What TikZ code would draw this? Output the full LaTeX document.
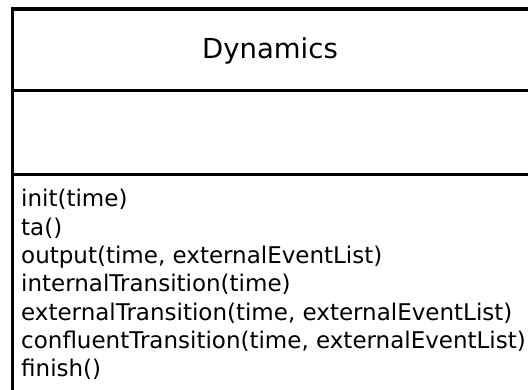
\documentclass[tikz,border=0pt]{standalone}
\usepackage{fontspec}
\setmainfont{DejaVu Sans}
\usetikzlibrary{positioning}

\begin{document}
\begin{tikzpicture}[x=1pt,y=-1pt]
	\useasboundingbox (0,0) rectangle (528,390);
	\clip (0,0) rectangle (528,390);
	\draw [line width=3.2pt] (12.5,9) rectangle (531,400);
	\draw [line width=3pt] (12.5,90.5) -- (531,90.5);
	\draw [line width=3pt] (12.5,175) -- (531,175);
	\node (name) [anchor=base, inner sep=0pt, font=\fontsize{27.5}{33}\selectfont] at (270,58.3) {Dynamics};
	\foreach \i/\op in {1/init(time), 2/ta(), 3/{output(time, externalEventList)}, 4/internalTransition(time), 5/{externalTransition(time, externalEventList)}, 6/{confluentTransition(time, externalEventList)}, 7/finish()}
		\node (m\i) [anchor=base west, inner sep=0pt, font=\fontsize{23}{28}\selectfont] at (21,178.4+28.33*\i) {\op};
	\end{tikzpicture}
\end{document}
